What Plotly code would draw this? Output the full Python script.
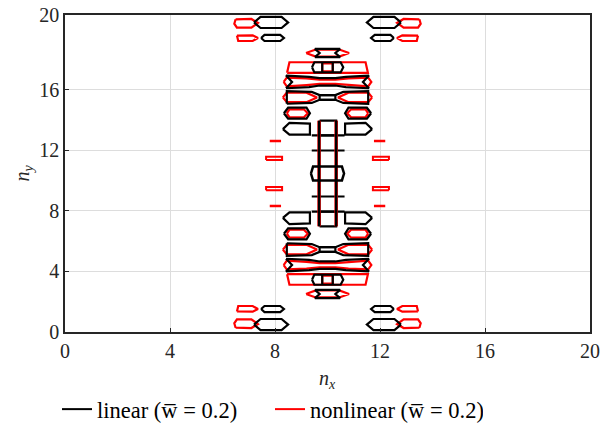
import plotly.graph_objects as go

# x range and ticks
x_ticks = [0, 4, 8, 12, 16, 20]
# y tick labels and the heights at which the reference draws them
y_tick_text = ["0", "4", "8", "12", "16", "20"]
y_tick_pos = [0, 3.82, 7.64, 11.46, 15.28, 20]

# Contour outlines of the lower-left quadrant (x<=10, y<=10); the figure is mirror-symmetric
black_left = [
    ([7.2, 7.45, 8.25, 8.5, 8.25, 7.45, 7.2], [0.47, 0.82, 0.82, 0.47, 0.12, 0.12, 0.47]),
    ([7.47, 7.6, 8.2, 8.34, 8.2, 7.6, 7.47], [1.45, 1.64, 1.64, 1.45, 1.26, 1.26, 1.45]),
    ([8.34, 8.5, 9.2, 9.33, 9.2, 8.5, 8.34], [6.2, 6.54, 6.54, 6.2, 5.85, 5.85, 6.2]),
    ([8.3, 8.55, 9.33, 9.33, 8.55, 8.3], [7.2, 7.55, 7.55, 6.85, 6.8, 7.2]),
]
red_left = [
    ([6.5, 6.45, 6.55, 7.1, 7.35, 7.1, 6.5], [0.27, 0.55, 0.8, 0.8, 0.5, 0.25, 0.27]),
    ([6.55, 6.6, 7.15, 7.35, 7.15, 6.55], [1.3, 1.64, 1.64, 1.45, 1.28, 1.3]),
    ([8.45, 8.55, 9.1, 9.25, 9.1, 8.55, 8.45], [6.2, 6.45, 6.45, 6.2, 5.95, 5.95, 6.2]),
    ([8.3, 8.45, 9.2, 9.6, 9.2, 8.45, 8.3], [5.2, 5.5, 5.5, 5.2, 4.9, 4.9, 5.2]),
]
# Outlines centred on x = 10 (lower half)
black_center = [
    ([9.52, 9.7, 9.52, 10.48, 10.3, 10.48, 9.52], [2.66, 2.4, 2.14, 2.14, 2.4, 2.66, 2.66]),
    ([9.41, 9.5, 10.5, 10.6, 10.5, 9.5, 9.41], [3.3, 3.62, 3.62, 3.3, 2.98, 2.98, 3.3]),
    ([9.8, 9.8], [2.98, 3.62]),
    ([10.2, 10.2], [2.98, 3.62]),
    ([8.42, 9.3, 9.7, 10.3, 10.7, 11.58, 11.35, 11.58, 10.7, 10.3, 9.7, 9.3, 8.42, 8.65, 8.42],
     [4.62, 4.55, 4.45, 4.45, 4.55, 4.62, 4.22, 3.82, 3.9, 3.98, 3.98, 3.9, 3.82, 4.22, 4.62]),
    ([8.45, 9.4, 9.7, 10.3, 10.6, 11.55, 11.55, 10.6, 10.3, 9.7, 9.4, 8.45, 8.45],
     [5.6, 5.55, 5.35, 5.35, 5.55, 5.6, 4.8, 4.85, 5.05, 5.05, 4.85, 4.8, 5.6]),
    ([9.7, 10.3, 10.3, 9.7, 9.7], [5.35, 5.35, 5.05, 5.05, 5.35]),
    ([9.7, 10.33, 10.33, 9.7, 9.7], [6.67, 6.67, 7.6, 7.6, 6.67]),
    ([9.4, 10.65], [7.6, 7.6]),
    ([9.4, 10.65], [8.55, 8.55]),
]
red_center = [
    ([9.18, 9.55, 10.45, 10.82, 10.45, 9.55, 9.18], [2.4, 2.62, 2.62, 2.4, 2.18, 2.18, 2.4]),
    ([8.46, 11.54, 11.45, 8.55, 8.46], [3.65, 3.65, 2.98, 2.98, 3.65]),
    ([9.8, 10.2, 10.2, 9.8, 9.8], [3.05, 3.05, 3.55, 3.55, 3.05]),
    ([8.33, 8.45, 9.2, 9.7, 10.3, 10.8, 11.55, 11.67, 11.55, 10.8, 10.3, 9.7, 9.2, 8.45, 8.33],
     [4.22, 4.5, 4.42, 4.35, 4.35, 4.42, 4.5, 4.22, 3.95, 4.0, 4.08, 4.08, 4.0, 3.95, 4.22]),
]
# Ladder through the middle (full height)
ladder_x = [9.68, 10.33]
ladder_y = [6.67, 13.33]
center_box = ([9.37, 9.45, 10.55, 10.63, 10.55, 9.45, 9.37], [10.0, 10.44, 10.44, 10.0, 9.56, 9.56, 10.0])
red_dashes = [([7.8, 8.23], [7.95, 7.95]), ([7.8, 8.23], [12.05, 12.05])]
red_ellipses = [([7.66, 8.27, 8.27, 7.66, 7.66], [8.95, 8.95, 9.15, 9.15, 8.95]),
                ([7.66, 8.27, 8.27, 7.66, 7.66], [10.85, 10.85, 11.05, 11.05, 10.85])]

fig = go.Figure()

def add(xs, ys, color, width=2.2):
    fig.add_trace(go.Scatter(x=xs, y=ys, mode="lines", line=dict(color=color, width=width),
                             showlegend=False, hoverinfo="skip"))

def mirror_all(shapes, color, mx=True, my=True, width=2.2):
    for xs, ys in shapes:
        add(xs, ys, color, width)
        if mx:
            add([20 - v for v in xs], ys, color, width)
        if my:
            add(xs, [20 - v for v in ys], color, width)
        if mx and my:
            add([20 - v for v in xs], [20 - v for v in ys], color, width)

mirror_all(red_left, "#ff0000")
mirror_all(red_center, "#ff0000", mx=False)
mirror_all(black_left, "#000000")
mirror_all(black_center, "#000000", mx=False)
for xv in ladder_x:
    add([xv, xv], ladder_y, "#ff0000", 3.5)
    add([xv, xv], ladder_y, "#000000", 2.5)
add(*center_box, "#000000", 2.5)
mirror_all(red_dashes, "#ff0000", my=False, width=2.5)
mirror_all(red_ellipses, "#ff0000", my=False, width=2)

# legend entries
fig.add_trace(go.Scatter(x=[None], y=[None], mode="lines", line=dict(color="black", width=2),
                         name="linear (w̅ = 0.2)"))
fig.add_trace(go.Scatter(x=[None], y=[None], mode="lines", line=dict(color="red", width=2),
                         name="nonlinear (w̅ = 0.2)"))

font = dict(family="Liberation Serif, DejaVu Serif, serif", size=20, color="#262626")
axis_common = dict(showgrid=True, gridcolor="#dddddd", gridwidth=1, showline=True, linecolor="#262626",
                   linewidth=1.5, mirror=True, ticks="inside", ticklen=4, tickcolor="#262626", zeroline=False,
                   tickfont=font, automargin=False)
fig.update_layout(
    width=602, height=431, plot_bgcolor="white", paper_bgcolor="white",
    margin=dict(l=65, r=12, t=15, b=99, autoexpand=False),
    font=font,
    xaxis=dict(range=[0, 20], tickvals=x_ticks, **axis_common),
    yaxis=dict(range=[0, 20], tickvals=y_tick_pos, ticktext=y_tick_text, **axis_common),
    legend=dict(orientation="h", x=0.0947, xanchor="left", y=20, yref="container", yanchor="middle",
                xref="container", font=dict(family=font["family"], size=22.5, color="black"),
                itemwidth=30, entrywidth=168, entrywidthmode="pixels", bgcolor="rgba(0,0,0,0)"),
    annotations=[
        dict(text="<i>n<sub>x</sub></i>", x=0.5, xref="paper", y=-0.15, yref="paper", yanchor="middle",
             showarrow=False, font=font),
        dict(text="<i>n<sub>y</sub></i>", x=-0.08, xref="paper", xanchor="center", y=0.5, yref="paper",
             showarrow=False, font=font, textangle=-90),
    ],
)
fig.write_html("out.html", config={"displayModeBar": False},
               post_script="document.body.style.margin='0';")
